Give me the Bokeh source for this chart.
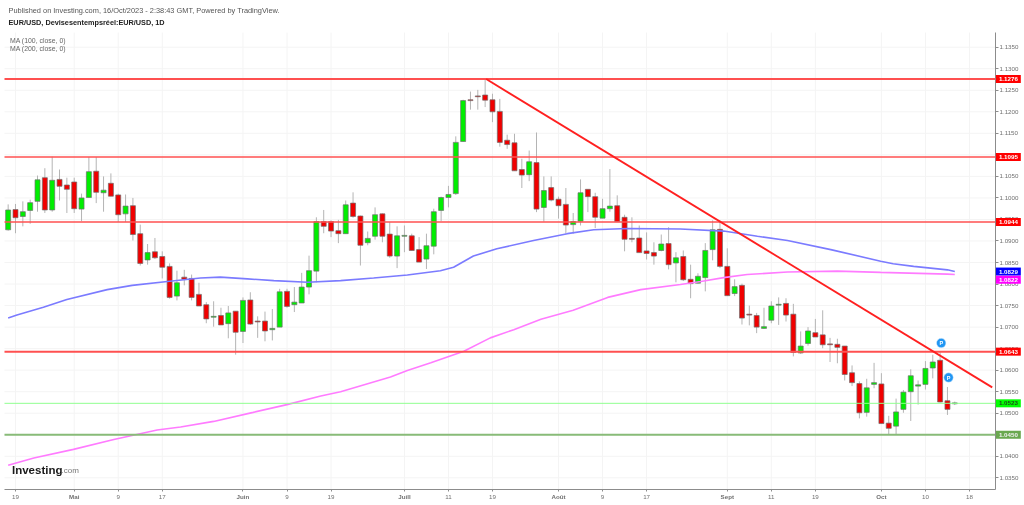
from bokeh.plotting import figure
from bokeh.models import (Range1d, FixedTicker, Label, LabelSet, ColumnDataSource,
                          InlineStyleSheet, NumeralTickFormatter)
from bokeh.embed import file_html
from bokeh.resources import INLINE
from bokeh.core.properties import value
import numpy as np

opens = [10926,10973,10957,10971,10992,11047,10972,11043,11030,11037,
         10974,11001,11062,11012,11034,11007,10963,10982,10917,10856,
         10875,10864,10841,10772,10816,10813,10776,10752,10723,10727,
         10708,10737,10690,10763,10714,10714,10694,10700,10783,10752,
         10756,10793,10830,10945,10945,10924,10917,10988,10958,10896,
         10911,10963,10916,10865,10911,10912,10880,10858,10888,10971,
         11001,11010,11131,11228,11237,11239,11228,11201,11134,11128,
         11066,11054,11082,10978,11024,10997,10985,10938,10946,11020,
         11003,10953,10975,10982,10955,10906,10907,10877,10873,10878,
         10894,10849,10864,10811,10802,10815,10880,10927,10841,10778,
         10797,10730,10727,10697,10716,10751,10755,10730,10640,10662,
         10687,10682,10661,10660,10656,10594,10569,10502,10567,10568,
         10477,10470,10509,10550,10563,10567,10605,10623,10529,10522]
closes = [10972,10954,10968,10989,11042,10972,11041,11027,11020,10975,
          11000,11061,11013,11018,11004,10961,10981,10915,10848,10873,
          10861,10839,10769,10803,10811,10769,10749,10719,10725,10705,
          10733,10688,10762,10707,10712,10691,10697,10782,10748,10758,
          10793,10831,10945,10934,10923,10917,10984,10957,10890,10906,
          10961,10911,10865,10912,10913,10878,10851,10889,10968,11001,
          11008,11129,11226,11226,11235,11227,11200,11129,11124,11063,
          11053,11084,10974,11017,10995,10982,10937,10945,11012,11003,
          10955,10975,10981,10945,10904,10904,10873,10871,10865,10893,
          10845,10861,10810,10801,10818,10878,10926,10841,10773,10794,
          10721,10728,10700,10701,10749,10753,10728,10641,10656,10691,
          10677,10659,10659,10653,10590,10571,10501,10559,10571,10476,
          10465,10503,10549,10587,10566,10604,10619,10526,10509,10524]
highs = [10985,10986,10992,10996,11052,11069,11096,11066,11047,11047,
         11010,11095,11095,11050,11057,11010,11008,11000,10938,10893,
         10907,10876,10848,10831,10833,10822,10803,10758,10760,10745,
         10749,10737,10769,10781,10725,10736,10742,10789,10789,10793,
         10826,10866,10955,10972,10948,10949,10994,11013,10959,10922,
         10978,10964,10944,10934,10936,10917,10909,10917,10975,11003,
         11028,11143,11228,11247,11251,11276,11242,11230,11147,11149,
         11091,11110,11152,11050,11050,11003,11023,10965,11043,11020,
         11012,10998,11067,11006,10961,10955,10936,10920,10897,10915,
         10932,10874,10878,10845,10825,10895,10948,10948,10883,10811,
         10801,10750,10733,10745,10760,10769,10767,10754,10690,10700,
         10719,10739,10675,10673,10656,10611,10574,10580,10617,10593,
         10494,10534,10554,10602,10576,10621,10636,10642,10561,10527]
lows = [10924,10918,10934,10940,10968,10965,10968,10994,10965,10965,
        10946,11001,10988,10968,11004,10944,10944,10901,10843,10845,
        10858,10813,10766,10762,10797,10762,10749,10709,10701,10705,
        10674,10636,10663,10705,10675,10667,10669,10700,10745,10735,
        10756,10776,10804,10918,10909,10895,10917,10954,10843,10890,
        10903,10897,10861,10837,10874,10878,10851,10835,10869,10946,
        10978,11007,11131,11205,11205,11211,11176,11119,11114,11063,
        11023,11039,10967,10945,10992,10952,10917,10917,10936,10967,
        10930,10953,10968,10945,10876,10897,10873,10857,10845,10876,
        10834,10804,10807,10767,10801,10783,10855,10837,10773,10772,
        10706,10704,10686,10696,10709,10705,10713,10632,10638,10657,
        10677,10651,10619,10616,10576,10563,10488,10492,10558,10476,
        10450,10450,10501,10482,10520,10555,10581,10525,10496,10519]

ma100_idx = [0,1.2,4.8,8,13.5,16.9,21.7,26.2,28.9,32.6,36.2,40.8,45.3,49.8,54.4,58.9,60.7,63.4,66.6,
             71.6,76.2,79.8,84.4,91.6,97.5,102.1,106.2,112.1,118.9,120.6,123.4,128,129]
ma100_val = [10721,10728,10746,10764,10787,10797,10806,10814,10816,10812,10808,10804,10808,10814,10821,
             10831,10839,10865,10882,10901,10917,10926,10929,10928,10923,10911,10901,10880,10853,10847,
             10841,10833,10829]
ma200_idx = [0,3.5,8.9,14.4,20.3,23.5,28,33.4,38,42.6,45.3,52.1,54.4,57.6,62.1,65.7,68.9,72.6,77,81.7,
             86.2,91.6,94.4,97.5,100.7,106.2,113,118.9,128,129]
ma200_val = [10379,10396,10416,10439,10461,10468,10481,10502,10520,10540,10550,10584,10599,10617,10644,
             10675,10694,10718,10739,10769,10787,10799,10806,10815,10822,10828,10830,10827,10823,10822]

price_ticks = [1.035,1.04,1.045,1.05,1.055,1.06,1.065,1.07,1.075,1.08,1.085,1.09,1.095,1.10,1.105,1.11,
               1.115,1.12,1.125,1.13,1.135]
date_idx = [1,9,15,21,32,38,44,54,60,66,75,81,87,98,104,110,119,125,131]
date_lab = ["19","Mai","9","17","Juin","9","19","Juill","11","19","Août","9","17","Sept","11","19","Oct","10","18"]
months = {"Mai","Juin","Juill","Août","Sept","Oct"}

red_levels = [1.1276,1.1095,1.0944,1.0643]
last_price = 1.0523
support = 1.0450
trend_idx = [65.14,134.1]
trend_val = [1.1276,1.0560]
pin_idx = [127.15,128.15]
pin_val = [1.0663,1.05829]

W, H = 1024, 505
X0, X1 = -0.499, 134.55   # time span of the chart pane
Y0, Y1 = 1.03228, 1.13841 # price span of the chart pane
p = figure(width=W, height=H, output_backend="svg", toolbar_location=None, y_axis_location="right",
           x_range=Range1d(-1.044, 138.5), y_range=Range1d(1.02857, 1.14585),
           min_border_left=0, min_border_right=0, min_border_top=0, min_border_bottom=0,
           frame_width=W, frame_height=H, background_fill_color="white", outline_line_color=None)
p.stylesheets = [InlineStyleSheet(css=":host{position:fixed !important;left:0;top:0;}")]
p.grid.visible = False

FONT = "Liberation Sans"
ax = p.yaxis[0]
ax.fixed_location = X1
ax.bounds = (Y0, Y1)
ax.ticker = FixedTicker(ticks=price_ticks)
ax.formatter = NumeralTickFormatter(format="0.0000")
ax.major_label_text_font = FONT
ax.major_label_text_font_size = "6.2px"
ax.major_label_text_color = "#707070"
ax.major_label_standoff = 1
ax.major_tick_in = 0
ax.major_tick_out = 3
ax.minor_tick_out = 0
ax.minor_tick_in = 0
ax.axis_line_color = "#8c8c8c"
ax.major_tick_line_color = "#8c8c8c"

bx = p.xaxis[0]
bx.fixed_location = Y0
bx.bounds = (X0, X1)
bx.ticker = FixedTicker(ticks=date_idx)
bx.major_label_overrides = {i: ("" if t in months else t) for i, t in zip(date_idx, date_lab)}
bx.major_label_text_font = FONT
bx.major_label_text_font_size = "6.2px"
bx.major_label_text_color = "#707070"
bx.major_label_standoff = 3
bx.major_tick_in = 0
bx.major_tick_out = 2
bx.minor_tick_out = 0
bx.minor_tick_in = 0
bx.axis_line_color = "#8c8c8c"
bx.major_tick_line_color = "#8c8c8c"

# light grid confined to the chart pane
p.segment(date_idx, [Y0] * len(date_idx), date_idx, [Y1] * len(date_idx), line_color="#f4f4f4", line_width=1)
p.segment([X0] * len(price_ticks), price_ticks, [X1] * len(price_ticks), price_ticks, line_color="#f4f4f4", line_width=1)

n = np.arange(len(opens))
o, c, h, l = [np.array(a) / 1e4 for a in (opens, closes, highs, lows)]
colors = ["#00ee00" if cc >= oo else "#f00000" for oo, cc in zip(o, c)]
src = ColumnDataSource(dict(x=n, top=np.maximum(o, c), bottom=np.minimum(o, c), h=h, l=l, color=colors))
p.segment("x", "h", "x", "l", source=src, line_color="#b4b4b4", line_width=1)
p.vbar("x", width=0.68, top="top", bottom="bottom", source=src, fill_color="color",
       line_color="#6e6e6e", line_width=0.7)

p.line(ma100_idx, np.array(ma100_val) / 1e4, line_color="#7b7bff", line_width=1.6)
p.line(ma200_idx, np.array(ma200_val) / 1e4, line_color="#ff7bff", line_width=1.6)

for lv in red_levels:
    p.line([X0, X1], [lv, lv], line_color="#ff5050", line_width=2 if lv in (1.1276, 1.0643) else 1.5)
p.line([X0, X1], [last_price, last_price], line_color="#90ff90", line_width=1)
p.line([X0, X1], [support, support], line_color="#88bb78", line_width=1.8)
p.line(trend_idx, trend_val, line_color="#ff2020", line_width=1.8)

p.scatter(pin_idx, pin_val, size=9.5, marker="circle", fill_color="#2196f3", line_color="#e8f4ff", line_width=0.5)
p.text(pin_idx, pin_val, text=["P", "P"], text_font=value(FONT), text_font_style="bold",
       text_font_size="5.5px", text_color="white", text_align="center", text_baseline="middle")

# bold month labels on the time axis
mi = [i for i, t in zip(date_idx, date_lab) if t in months]
mt = [t for t in date_lab if t in months]
msrc = ColumnDataSource(dict(x=mi, y=[Y0] * len(mi), t=mt))
p.add_layout(LabelSet(x="x", y="y", text="t", source=msrc, y_offset=-7, text_align="center",
                      text_baseline="middle", text_font=value(FONT), text_font_style="bold",
                      text_font_size="6.2px", text_color="#707070"))


def tag(txt, py_val, bg, fg="white"):
    p.add_layout(Label(x=136.3, y=py_val, text=txt, text_font=FONT, text_font_size="6.2px",
                       text_font_style="bold", text_color=fg, text_align="center", text_baseline="middle",
                       background_fill_color=bg, padding=(3, 2)))


for lv in red_levels:
    tag(f"{lv:.4f}", lv, "#ff0000")
tag("1.0829", 1.0829, "#0000ff")
tag("1.0822", 1.0810, "#ff00ff")
tag("1.0523", 1.0523, "#00ff00", "#1a4a1a")
tag("1.0450", 1.0450, "#6aa84f", "#f0f0f0")


def note(txt, px, py, size, color, style="normal"):
    p.add_layout(Label(x=(px - 7.66) / 7.338, y=1.135 - (py - 46.7) / 4306, text=txt, text_font=FONT,
                       text_font_size=size, text_color=color, text_font_style=style,
                       text_align="left", text_baseline="middle"))


note("Published on Investing.com, 16/Oct/2023 - 2:38:43 GMT, Powered by TradingView.", 8, 9.5, "7.4px", "#555555")
note("EUR/USD, Devisesentempsréel:EUR/USD, 1D", 8, 22, "7.3px", "#222222", "bold")
note("MA (100, close, 0)", 9.5, 40, "6.9px", "#666666")
note("MA (200, close, 0)", 9.5, 47.5, "6.9px", "#666666")
note("Investing", 11.5, 469, "11.5px", "#1a1a1a", "bold")
note(".com", 61, 470, "8px", "#777777")

open("out.html", "w").write(file_html(p, INLINE))
